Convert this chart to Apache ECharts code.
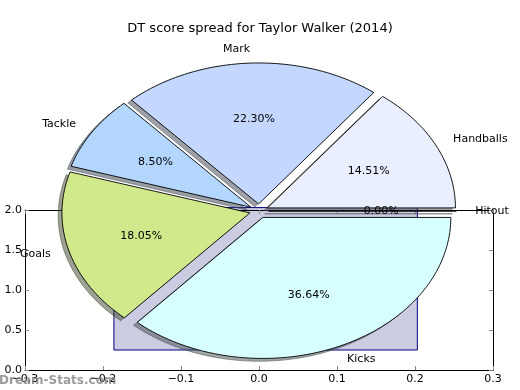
<!DOCTYPE html>
<html><head><meta charset="utf-8">
<script src="https://cdn.jsdelivr.net/npm/echarts@6/dist/echarts.min.js"></script>
<style>html,body{margin:0;padding:0;background:#fff}#c{width:520px;height:390px}</style>
</head><body><div id="c"></div>
<script>
// ---- data ----
const categories = ['Handballs', 'Mark', 'Tackle', 'Goals', 'Kicks', 'Hitout'];
const shares = [14.51, 22.30, 8.50, 18.05, 36.64, 0.00];
const sliceColors = ['#e9efff', '#c4d8ff', '#b3d6ff', '#cfe98b', '#d8ffff', '#ffffff'];
const explodes = [0.05, 0.05, 0.05, 0.05, 0.05, 0.05];
const barX = [-0.186, 0.203];
const barY = [0.25, 2.03];
const xTickValues = [-0.3, -0.2, -0.1, 0.0, 0.1, 0.2, 0.3];
const yTickValues = [0.0, 0.5, 1.0, 1.5, 2.0];
const titleText = 'DT score spread for Taylor Walker (2014)';
const watermark = 'Dream-Stats.com';

// ---- derived ----
const total = shares.reduce((a, b) => a + b, 0);
let acc = 0;
const wedges = shares.map((v, i) => {
  const a0 = acc / total * 360; acc += v;
  return [a0, acc / total * 360, explodes[i], v];
});
const FONT = '"DejaVu Sans", sans-serif';
const fmt = v => (v < 0 ? '\u2212' : '') + Math.abs(v).toFixed(1);

function wedgePts(api, a0, a1, ex, dx, dy) {
  const mid = (a0 + a1) / 2 * Math.PI / 180;
  const cx = ex * Math.cos(mid) + dx, cy = ex * Math.sin(mid) + dy;
  const pts = [api.coord([cx, cy])];
  const n = Math.max(1, Math.ceil((a1 - a0) / 1.5));
  for (let i = 0; i <= n; i++) {
    const a = (a0 + (a1 - a0) * i / n) * Math.PI / 180;
    pts.push(api.coord([cx + Math.cos(a), cy + Math.sin(a)]));
  }
  return pts;
}
function shadowColor(hex) {
  const r = parseInt(hex.slice(1, 3), 16), g = parseInt(hex.slice(3, 5), 16), b = parseInt(hex.slice(5, 7), 16);
  return `rgba(${Math.round(r * 0.3)},${Math.round(g * 0.3)},${Math.round(b * 0.3)},0.5)`;
}

const chart = echarts.init(document.getElementById('c'), null, { renderer: 'canvas' });
const axisCommon = () => ({
  axisLine: { show: true, onZero: false, lineStyle: { color: '#000', width: 1 } },
  axisTick: { show: true, inside: true, length: 4, lineStyle: { color: '#888', width: 1 } },
  splitLine: { show: false },
  z: 1
});
chart.setOption({
  animation: false,
  backgroundColor: '#fff',
  title: {
    text: titleText, left: 'center', top: 17,
    textStyle: { fontFamily: FONT, fontSize: 13, fontWeight: 'normal', color: '#000' }
  },
  grid: [
    { left: 25, right: 27, top: 210, bottom: 20 },
    { left: 71, top: 70, width: 376, height: 282 }
  ],
  xAxis: [
    Object.assign({ type: 'value', gridIndex: 0, min: -0.3, max: 0.3, interval: 0.1, position: 'bottom',
      axisLabel: { fontFamily: FONT, fontSize: 11, color: '#000', margin: 4, formatter: fmt } }, axisCommon()),
    { type: 'value', gridIndex: 1, min: -1, max: 1, show: false },
    Object.assign({ type: 'value', gridIndex: 0, min: -0.3, max: 0.3, interval: 0.1, position: 'top',
      axisLabel: { show: false } }, axisCommon())
  ],
  yAxis: [
    Object.assign({ type: 'value', gridIndex: 0, min: 0, max: 2, interval: 0.5, position: 'left',
      axisLabel: { fontFamily: FONT, fontSize: 11, color: '#000', margin: 3, formatter: fmt } }, axisCommon()),
    { type: 'value', gridIndex: 1, min: -1, max: 1, show: false },
    Object.assign({ type: 'value', gridIndex: 0, min: 0, max: 2, interval: 0.5, position: 'right',
      axisLabel: { show: false } }, axisCommon())
  ],
  series: [
    {
      type: 'custom', xAxisIndex: 0, yAxisIndex: 0, z: 0, clip: false,
      data: [[barX[0], barY[0], barX[1], barY[1]]],
      renderItem: (params, api) => {
        const p0 = api.coord([api.value(0), api.value(3)]);
        const p1 = api.coord([api.value(2), api.value(1)]);
        return { type: 'rect', shape: { x: p0[0], y: p0[1], width: p1[0] - p0[0], height: p1[1] - p0[1] },
          style: { fill: '#cbcbe2', stroke: '#000080', lineWidth: 1 } };
      }
    },
    {
      type: 'custom', xAxisIndex: 1, yAxisIndex: 1, z: 3, clip: false,
      data: wedges,
      renderItem: (params, api) => {
        const w = wedges[params.dataIndex];
        const c = shadowColor(sliceColors[params.dataIndex]);
        return { type: 'polygon', shape: { points: wedgePts(api, w[0], w[1], w[2], -0.02, -0.02) },
          style: { fill: c, stroke: c, lineWidth: 1 } };
      }
    },
    {
      type: 'custom', xAxisIndex: 1, yAxisIndex: 1, z: 4, clip: false,
      data: wedges,
      renderItem: (params, api) => {
        const w = wedges[params.dataIndex];
        return { type: 'polygon', shape: { points: wedgePts(api, w[0], w[1], w[2], 0, 0) },
          style: { fill: sliceColors[params.dataIndex], stroke: '#000', lineWidth: 0.9 } };
      }
    },
    {
      type: 'custom', xAxisIndex: 1, yAxisIndex: 1, z: 5, clip: false,
      data: wedges,
      renderItem: (params, api) => {
        const i = params.dataIndex, w = wedges[i];
        const mid = (w[0] + w[1]) / 2 * Math.PI / 180;
        const cs = Math.cos(mid), sn = Math.sin(mid);
        const lp = api.coord([(w[2] + 1.1) * cs, (w[2] + 1.1) * sn]);
        const pp = api.coord([(w[2] + 0.6) * cs, (w[2] + 0.6) * sn]);
        const pct = (w[3] / total * 100).toFixed(2) + '%';
        return { type: 'group', children: [
          { type: 'text', x: lp[0], y: lp[1], style: { text: categories[i], fill: '#000', fontFamily: FONT, fontSize: 11,
              align: cs > 1e-9 ? 'left' : 'right', verticalAlign: 'middle' } },
          { type: 'text', x: pp[0], y: pp[1], style: { text: pct, fill: '#000', fontFamily: FONT, fontSize: 11,
              align: 'center', verticalAlign: 'middle' } }
        ] };
      }
    }
  ],
  graphic: [
    { type: 'text', left: -1, top: 375, z: 10,
      style: { text: watermark, fill: 'rgba(120,120,120,0.75)', fontFamily: FONT, fontSize: 12, fontWeight: 'bold' } }
  ]
});
</script></body></html>
